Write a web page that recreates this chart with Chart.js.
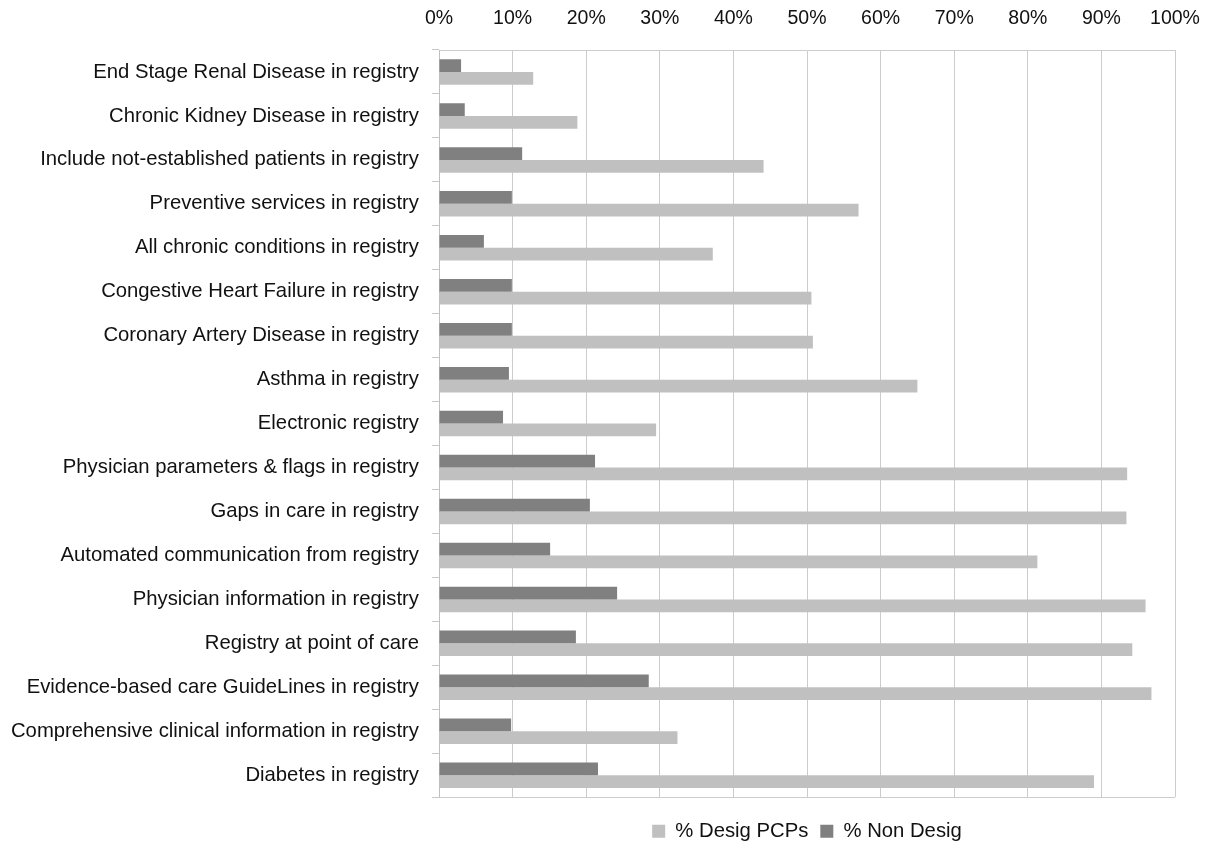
<!DOCTYPE html>
<html>
<head>
<meta charset="utf-8">
<title>Registry features by PCP designation</title>
<script src="https://cdn.jsdelivr.net/npm/chart.js@4.4.1/dist/chart.umd.min.js"></script>
<style>
  html, body { margin: 0; padding: 0; background: #ffffff; overflow: hidden; }
  #view { width: 1211px; height: 846px; overflow: hidden; }
  #wrap { position: relative; width: 1211px; height: 900px; }
</style>
</head>
<body>
<div id="view"><div id="wrap"><canvas id="chart"></canvas></div></div>
<script>
// Registry features, listed top to bottom
const categories = [
  'End Stage Renal Disease in registry',
  'Chronic Kidney Disease in registry',
  'Include not-established patients in registry',
  'Preventive services in registry',
  'All chronic conditions in registry',
  'Congestive Heart Failure in registry',
  'Coronary Artery Disease in registry',
  'Asthma in registry',
  'Electronic registry',
  'Physician parameters & flags in registry',
  'Gaps in care in registry',
  'Automated communication from registry',
  'Physician information in registry',
  'Registry at point of care',
  'Evidence-based care GuideLines in registry',
  'Comprehensive clinical information in registry',
  'Diabetes in registry'
];

// Share of practices (%) with each feature
const desigPCPs = [12.8, 18.8, 44.1, 57.0, 37.2, 50.6, 50.8, 65.0, 29.5, 93.5, 93.4, 81.3, 96.0, 94.2, 96.8, 32.4, 89.0];
const nonDesig  = [3.0, 3.5, 11.3, 9.9, 6.1, 9.9, 9.9, 9.5, 8.7, 21.2, 20.5, 15.1, 24.2, 18.6, 28.5, 9.8, 21.6];

const seriesNames = ['% Desig PCPs', '% Non Desig'];
const axisMin = 0;
const axisMax = 100;
const axisStep = 10;

const FONT = "'Liberation Sans', Arial, sans-serif";
const gridColor = '#cccccc';

// closes the plot frame along its lower edge
const bottomFrame = {
  id: 'bottomFrame',
  afterDraw(chart) {
    const { ctx, chartArea } = chart;
    ctx.save();
    ctx.strokeStyle = gridColor;
    ctx.lineWidth = 1;
    ctx.beginPath();
    const y = Math.round(chartArea.bottom) + 0.5;
    ctx.moveTo(chartArea.left, y);
    ctx.lineTo(chartArea.right, y);
    ctx.stroke();
    ctx.restore();
  }
};

new Chart(document.getElementById('chart'), {
  type: 'bar',
  data: {
    labels: categories,
    datasets: [
      {
        label: seriesNames[1],
        data: nonDesig,
        backgroundColor: '#808080',
        categoryPercentage: 0.58,
        barPercentage: 1.0
      },
      {
        label: seriesNames[0],
        data: desigPCPs,
        backgroundColor: '#c0c0c0',
        categoryPercentage: 0.58,
        barPercentage: 1.0
      }
    ]
  },
  options: {
    indexAxis: 'y',
    responsive: true,
    maintainAspectRatio: false,
    animation: false,
    layout: { padding: { left: 0, right: 36, top: 0, bottom: 48.5 } },
    scales: {
      x: {
        position: 'top',
        min: axisMin,
        max: axisMax,
        afterFit(scale) { scale.height = 50; },
        ticks: {
          stepSize: axisStep,
          padding: 2,
          color: '#111111',
          font: { family: FONT, size: 19.5 },
          callback: (v) => v + '%'
        },
        grid: {
          color: gridColor,
          lineWidth: 1,
          drawTicks: true,
          tickLength: 18,
          tickColor: 'rgba(0,0,0,0)'
        },
        border: { display: true, color: gridColor }
      },
      y: {
        afterFit(scale) { scale.width = 439; },
        ticks: {
          padding: 13,
          color: '#111111',
          font: { family: FONT, size: 20.3 }
        },
        grid: {
          drawOnChartArea: false,
          drawTicks: true,
          tickLength: 7,
          color: '#c8c8c8',
          offset: true
        },
        border: { display: true, color: '#bfbfbf' }
      }
    },
    plugins: {
      legend: {
        position: 'bottom',
        fullSize: false,
        reverse: true,
        // empty title only spaces the legend row away from the plot
        title: { display: true, text: '', padding: 0, font: { size: 10 } },
        labels: {
          color: '#111111',
          font: { family: FONT, size: 20.3 },
          boxWidth: 13,
          boxHeight: 13,
          padding: 12
        }
      },
      tooltip: { enabled: false }
    }
  },
  plugins: [bottomFrame]
});
</script>
</body>
</html>
